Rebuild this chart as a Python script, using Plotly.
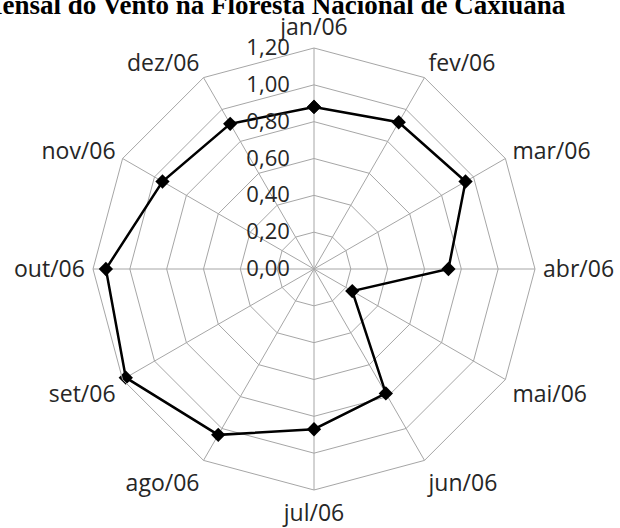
import plotly.graph_objects as go

# Monthly mean wind speed, Caxiuanã National Forest (2006)
meses = ["jan/06", "fev/06", "mar/06", "abr/06", "mai/06", "jun/06",
         "jul/06", "ago/06", "set/06", "out/06", "nov/06", "dez/06"]
velocidade = [0.88, 0.92, 0.95, 0.73, 0.24, 0.78,
              0.87, 1.04, 1.18, 1.13, 0.95, 0.91]
radial_ticks = [0.0, 0.2, 0.4, 0.6, 0.8, 1.0, 1.2]
titulo = "Velocidade Média Mensal do Vento na Floresta Nacional de Caxiuanã"

W, H = 620, 528
cx, cy, R = 314, 269, 221

fig = go.Figure()
fig.add_trace(go.Scatterpolar(
    r=velocidade + velocidade[:1],
    theta=meses + meses[:1],
    mode="lines+markers",
    line=dict(color="black", width=2.5),
    marker=dict(symbol="diamond", size=11, color="black"),
    showlegend=False,
    cliponaxis=False,
))

grid = "#a6a6a6"
txt = "#262626"
fs = 23
fig.update_layout(
    width=W, height=H,
    margin=dict(l=0, r=0, t=0, b=0),
    paper_bgcolor="white",
    separators=",.",
    font=dict(family="Open Sans", size=fs, color=txt),
    polar=dict(
        domain=dict(x=[(cx - R) / W, (cx + R) / W],
                    y=[(H - cy - R) / H, (H - cy + R) / H]),
        bgcolor="white",
        gridshape="linear",
        radialaxis=dict(
            range=[0, 1.2],
            tickvals=radial_ticks,
            tickformat=".2f",
            angle=90,
            side="counterclockwise",
            tickangle=90,
            showline=False,
            gridcolor=grid,
            gridwidth=1,
            ticks="outside",
            ticklen=16,
            tickcolor="rgba(0,0,0,0)",
            tickfont=dict(family="Open Sans", size=22, color=txt),
        ),
        angularaxis=dict(
            categoryorder="array",
            categoryarray=meses,
            direction="clockwise",
            rotation=90,
            showline=True,
            linecolor=grid,
            linewidth=1,
            gridcolor=grid,
            gridwidth=1,
            ticks="outside",
            ticklen=3,
            tickcolor="rgba(0,0,0,0)",
            tickfont=dict(family="Open Sans", size=fs, color=txt),
        ),
    ),
    annotations=[dict(
        text="<b>" + titulo + "</b>",
        xref="paper", yref="paper",
        x=568 / W, y=1 - 5 / H,
        xanchor="right", yanchor="middle",
        showarrow=False,
        font=dict(family="Liberation Serif", size=27, color="black"),
    )],
)

fig.write_html("out.html")
